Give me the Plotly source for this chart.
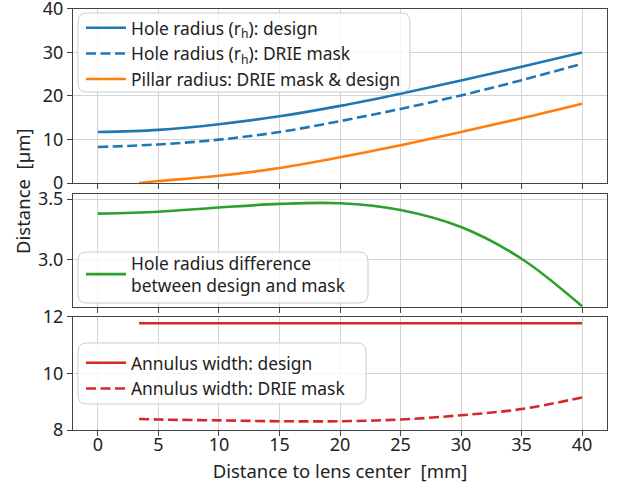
import plotly.graph_objects as go

# ---------------- data ----------------
x_hole = [0, 5, 10, 15, 20, 25, 30, 35, 40]
hole_design = [11.7, 12.2, 13.5, 15.3, 17.7, 20.5, 23.5, 26.7, 29.95]
hole_mask = [8.27, 8.85, 9.95, 11.7, 14.2, 17.0, 20.1, 23.6, 27.35]

x_pillar = [3.4, 5, 10, 15, 20, 25, 30, 35, 40]
pillar = [0.0, 0.45, 1.65, 3.45, 5.9, 8.65, 11.7, 14.85, 18.2]

hole_diff = [3.38, 3.395, 3.43, 3.46, 3.465, 3.41, 3.27, 3.01, 2.62]

annulus_design = [11.77, 11.77, 11.77, 11.77, 11.77, 11.77, 11.77, 11.77, 11.77]
annulus_mask = [8.39, 8.37, 8.34, 8.31, 8.31, 8.37, 8.52, 8.74, 9.15]

x_ticks = [0, 5, 10, 15, 20, 25, 30, 35, 40]

# ---------------- style ----------------
W, H = 618, 483
FONT = "Noto Sans"
BLUE, ORANGE, GREEN, RED = "#1f77b4", "#ff7f0e", "#2ca02c", "#d62728"
LW = 2.6
DASH = "10px,4.5px"
TICK_SIZE = 18
LEG_SIZE = 17.4
TITLE_SIZE = 18.5


def px(x):
    return x / W


def py(y):
    return 1 - y / H


fig = go.Figure()

fig.add_trace(go.Scatter(x=x_hole, y=hole_design, mode="lines", line=dict(color=BLUE, width=LW, shape="spline"),
                         name="Hole radius (r<sub>h</sub>): design", xaxis="x", yaxis="y", legend="legend"))
fig.add_trace(go.Scatter(x=x_hole, y=hole_mask, mode="lines", line=dict(color=BLUE, width=LW, dash=DASH, shape="spline"),
                         name="Hole radius (r<sub>h</sub>): DRIE mask", xaxis="x", yaxis="y", legend="legend"))
fig.add_trace(go.Scatter(x=x_pillar, y=pillar, mode="lines", line=dict(color=ORANGE, width=LW, shape="spline"),
                         name="Pillar radius: DRIE mask &amp; design", xaxis="x", yaxis="y", legend="legend"))

fig.add_trace(go.Scatter(x=x_hole, y=hole_diff, mode="lines", line=dict(color=GREEN, width=LW, shape="spline"),
                         name="Hole radius difference<br>between design and mask", xaxis="x2", yaxis="y2", legend="legend2"))

fig.add_trace(go.Scatter(x=x_pillar, y=annulus_design, mode="lines", line=dict(color=RED, width=LW),
                         name="Annulus width: design", xaxis="x3", yaxis="y3", legend="legend3"))
fig.add_trace(go.Scatter(x=x_pillar, y=annulus_mask, mode="lines", line=dict(color=RED, width=LW, dash=DASH, shape="spline"),
                         name="Annulus width: DRIE mask", xaxis="x3", yaxis="y3", legend="legend3"))

x_dom = [px(73), px(607)]
xr = [-2.06, 42.06]
axis_common = dict(showline=True, linecolor="#444", linewidth=1, mirror=True,
                   ticks="outside", ticklen=5, tickcolor="#444", tickwidth=1,
                   showgrid=True, gridcolor="#d3d3d3", gridwidth=1, zeroline=False, automargin=False,
                   ticklabeloverflow="allow",
                   tickfont=dict(family=FONT, size=TICK_SIZE, color="#222"))

xa = dict(domain=x_dom, range=xr, tickvals=x_ticks, **axis_common)

legend_common = dict(bgcolor="rgba(0,0,0,0)", borderwidth=0, font=dict(family=FONT, size=LEG_SIZE, color="#222"),
                     xanchor="left", yanchor="top", tracegroupgap=0, itemwidth=40)


def rounded(x0, y0, x1, y1, r=9):
    def P(x, y):
        return f"{px(x):.5f},{py(y):.5f}"
    return (f"M {P(x0 + r, y0)} L {P(x1 - r, y0)} Q {P(x1, y0)} {P(x1, y0 + r)} "
            f"L {P(x1, y1 - r)} Q {P(x1, y1)} {P(x1 - r, y1)} L {P(x0 + r, y1)} "
            f"Q {P(x0, y1)} {P(x0, y1 - r)} L {P(x0, y0 + r)} Q {P(x0, y0)} {P(x0 + r, y0)} Z")


shapes = []
for box in [(78, 13, 410, 92), (78, 252, 368, 303), (78, 343, 366, 404)]:
    shapes.append(dict(type="path", path=rounded(*box), xref="paper", yref="paper",
                       fillcolor="rgba(255,255,255,0.8)", line=dict(color="#cccccc", width=1), layer="above"))

fig.update_layout(
    width=W, height=H,
    margin=dict(l=0, r=0, t=0, b=0, autoexpand=False),
    paper_bgcolor="white", plot_bgcolor="white",
    font=dict(family=FONT, size=16, color="#222"),
    xaxis=dict(anchor="y", showticklabels=False, **xa),
    xaxis2=dict(anchor="y2", showticklabels=False, matches="x", **xa),
    xaxis3=dict(anchor="y3", matches="x", ticklabelstandoff=-7,
                title=dict(text="Distance to lens center&nbsp;&nbsp;[mm]",
                           font=dict(family=FONT, size=TITLE_SIZE, color="#222"), standoff=10), **xa),
    yaxis=dict(anchor="x", domain=[py(183), py(8.7)], range=[0, 40], tickvals=[0, 10, 20, 30, 40], **axis_common),
    yaxis2=dict(anchor="x2", domain=[py(306.7), py(194)], range=[2.617, 3.541], tickvals=[3.0, 3.5],
                ticktext=["3.0", "3.5"], **axis_common),
    yaxis3=dict(anchor="x3", domain=[py(430), py(316.7)], range=[8, 12], tickvals=[8, 10, 12], **axis_common),
    legend=dict(x=px(81), y=py(10), **legend_common),
    legend2=dict(x=px(81), y=py(245), **legend_common),
    legend3=dict(x=px(81), y=py(345), **legend_common),
    shapes=shapes,
    annotations=[dict(text="Distance&nbsp;&nbsp;[µm]", x=px(22.5), y=py(191.5), xref="paper", yref="paper",
                      textangle=-90, showarrow=False, font=dict(family=FONT, size=TITLE_SIZE, color="#222"),
                      xanchor="center", yanchor="middle")],
)

fig.write_html("out.html", config={"displayModeBar": False},
               post_script="document.body.style.margin='0px';document.body.style.overflow='hidden';")
